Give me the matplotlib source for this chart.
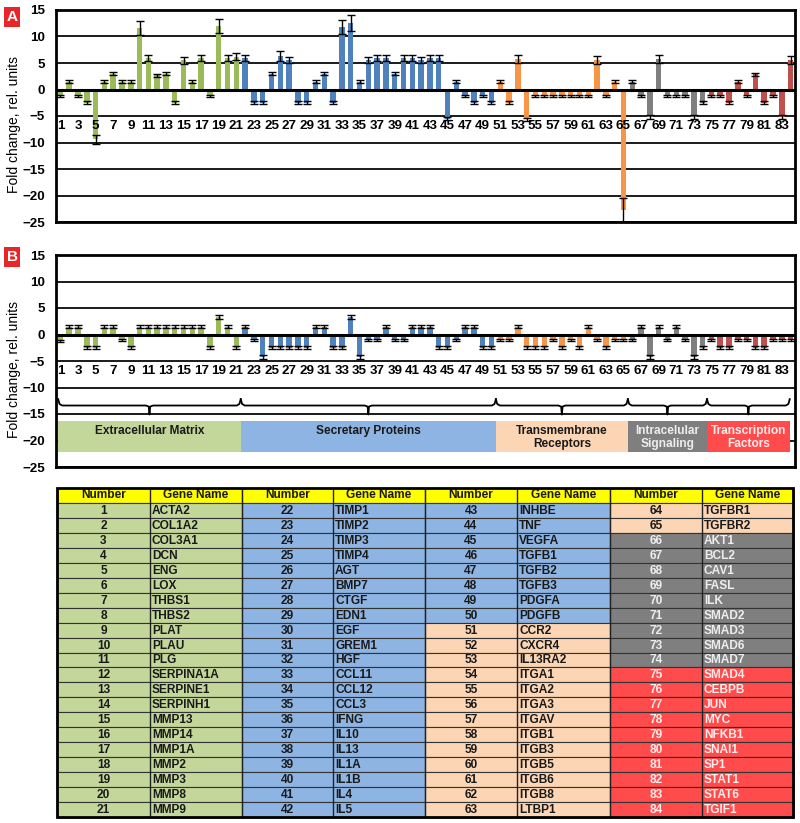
import matplotlib
matplotlib.use('Agg')
import matplotlib.pyplot as plt
from matplotlib.patches import Rectangle

plt.rcParams['font.family'] = ['Liberation Sans', 'DejaVu Sans']

# данные
numbers = list(range(1, 85))
genes = ['ACTA2', 'COL1A2', 'COL3A1', 'DCN', 'ENG', 'LOX', 'THBS1', 'THBS2', 'PLAT', 'PLAU',
         'PLG', 'SERPINA1A', 'SERPINE1', 'SERPINH1', 'MMP13', 'MMP14', 'MMP1A', 'MMP2', 'MMP3', 'MMP8',
         'MMP9', 'TIMP1', 'TIMP2', 'TIMP3', 'TIMP4', 'AGT', 'BMP7', 'CTGF', 'EDN1', 'EGF',
         'GREM1', 'HGF', 'CCL11', 'CCL12', 'CCL3', 'IFNG', 'IL10', 'IL13', 'IL1A', 'IL1B',
         'IL4', 'IL5', 'INHBE', 'TNF', 'VEGFA', 'TGFB1', 'TGFB2', 'TGFB3', 'PDGFA', 'PDGFB',
         'CCR2', 'CXCR4', 'IL13RA2', 'ITGA1', 'ITGA2', 'ITGA3', 'ITGAV', 'ITGB1', 'ITGB3', 'ITGB5',
         'ITGB6', 'ITGB8', 'LTBP1', 'TGFBR1', 'TGFBR2', 'AKT1', 'BCL2', 'CAV1', 'FASL', 'ILK',
         'SMAD2', 'SMAD3', 'SMAD6', 'SMAD7', 'SMAD4', 'CEBPB', 'JUN', 'MYC', 'NFKB1', 'SNAI1',
         'SP1', 'STAT1', 'STAT6', 'TGIF1']
groups = ['Extracellular Matrix', 'Secretary Proteins', 'Transmembrane\nReceptors',
          'Intracelular\nSignaling', 'Transcription\nFactors']
group_last = [21, 50, 65, 74, 84]

fold_a = [-1.2, 1.5, -1.2, -2.5, -9.4, 1.5, 3.0, 1.5, 1.5, 11.6,
          6.0, 2.7, 3.0, -2.5, 5.5, 1.5, 6.0, -1.2, 12.0, 6.0,
          6.2, 6.0, -2.5, -2.5, 3.0, 6.3, 5.6, -2.5, -2.5, 1.5,
          3.0, -2.5, 11.8, 12.6, 1.5, 5.6, 6.0, 6.0, 3.0, 6.0,
          6.0, 5.6, 6.0, 6.0, -5.5, 1.5, -1.2, -2.5, -1.2, -2.5,
          1.5, -2.5, 5.8, -5.6, -1.2, -1.2, -1.2, -1.2, -1.2, -1.2,
          -1.2, 5.6, -1.2, 1.5, -22.8, 1.5, -1.2, -5.2, 5.8, -1.2,
          -1.2, -1.2, -5.2, -2.5, -1.2, -1.2, -2.5, 1.5, -1.2, 2.9,
          -2.5, -1.2, -5.2, 5.6]
err_a = [0.2, 0.2, 0.2, 0.3, 0.8, 0.2, 0.35, 0.2, 0.2, 1.3,
         0.6, 0.3, 0.3, 0.3, 0.7, 0.2, 0.6, 0.2, 1.3, 0.6,
         0.7, 0.6, 0.3, 0.3, 0.3, 0.9, 0.6, 0.3, 0.3, 0.2,
         0.3, 0.3, 1.3, 1.5, 0.2, 0.6, 0.6, 0.6, 0.3, 0.6,
         0.6, 0.6, 0.6, 0.6, 0.3, 0.2, 0.2, 0.3, 0.2, 0.3,
         0.2, 0.3, 0.8, 0.3, 0.2, 0.2, 0.2, 0.2, 0.2, 0.2,
         0.2, 0.8, 0.2, 0.2, 2.4, 0.2, 0.2, 0.3, 0.8, 0.2,
         0.2, 0.2, 0.3, 0.3, 0.2, 0.2, 0.3, 0.2, 0.2, 0.3,
         0.3, 0.2, 0.3, 0.7]

fold_b = [-1.2, 1.5, 1.5, -2.5, -2.5, 1.5, 1.5, -1.0, -2.5, 1.5,
          1.5, 1.5, 1.5, 1.5, 1.5, 1.5, 1.5, -2.5, 3.3, 1.5,
          -2.5, 1.5, -1.0, -4.3, -2.5, -2.5, -2.5, -2.5, -2.5, 1.5,
          1.5, -2.5, -2.5, 3.3, -4.3, -1.0, -1.0, 1.5, -1.0, -1.0,
          1.5, 1.5, 1.5, -2.5, -2.5, -1.0, 1.5, 1.5, -2.5, -2.5,
          -1.0, -1.0, 1.5, -2.5, -2.5, -2.5, -1.0, -2.5, -1.0, -2.5,
          1.5, -1.0, -2.5, -1.0, -1.0, -1.0, 1.5, -4.3, 1.5, -1.0,
          1.5, -1.0, -4.3, -2.5, -1.0, -2.5, -2.5, -1.0, -1.0, -2.5,
          -2.5, -1.0, -1.0, -1.0]
err_b = [0.2, 0.2, 0.2, 0.25, 0.25, 0.2, 0.2, 0.15, 0.25, 0.2,
         0.2, 0.2, 0.2, 0.2, 0.2, 0.2, 0.2, 0.25, 0.4, 0.2,
         0.25, 0.2, 0.15, 0.4, 0.25, 0.25, 0.25, 0.25, 0.25, 0.2,
         0.2, 0.25, 0.25, 0.4, 0.4, 0.15, 0.15, 0.2, 0.15, 0.15,
         0.2, 0.2, 0.2, 0.25, 0.25, 0.15, 0.2, 0.2, 0.25, 0.25,
         0.15, 0.15, 0.2, 0.25, 0.25, 0.25, 0.15, 0.25, 0.15, 0.25,
         0.2, 0.15, 0.25, 0.15, 0.15, 0.15, 0.2, 0.4, 0.2, 0.15,
         0.2, 0.15, 0.4, 0.25, 0.15, 0.25, 0.25, 0.15, 0.15, 0.25,
         0.25, 0.15, 0.15, 0.15]

# цвета
bar_colors = ['#9BBB59', '#4F81BD', '#F79646', '#7F7F7F', '#C0504D']
light_colors = ['#C4D79B', '#8DB4E2', '#FCD5B4', '#7F7F7F', '#FF4B4B']
text_colors = ['#1a1a1a', '#1a1a1a', '#1a1a1a', '#EDEDED', '#FFEDED']


def group_of(n):
    for i, last in enumerate(group_last):
        if n <= last:
            return i


W, H = 800, 823
fig = plt.figure(figsize=(W / 100, H / 100), dpi=100)


def px_axes(x0, y0, x1, y1):
    return fig.add_axes([x0 / W, 1 - y1 / H, (x1 - x0) / W, (y1 - y0) / H])


def fold_panel(ax, vals, errs, letter, y_letter):
    cols = [bar_colors[group_of(n)] for n in numbers]
    ax.set_xlim(0.5, 84.5)
    ax.set_ylim(-25, 15)
    for y in range(-25, 16, 5):
        ax.axhline(y, color='#1a1a1a', lw=1.4, zorder=1)
    ax.bar(numbers, vals, width=0.62, color=cols, zorder=2, yerr=errs, capsize=2.8,
           error_kw=dict(elinewidth=1, capthick=1, ecolor='black', zorder=4))
    ax.axhline(0, color='black', lw=2.2, zorder=3)
    for n in numbers[::2]:
        ax.text(n, -6.9, str(n), ha='center', va='center', fontsize=9.6,
                fontweight='bold', zorder=5)
    ax.set_xticks([])
    ax.set_yticks(range(-25, 16, 5))
    ax.tick_params(axis='y', length=0, labelsize=9.6, pad=8)
    for lab in ax.get_yticklabels():
        lab.set_fontweight('bold')
    for s in ax.spines.values():
        s.set_linewidth(2)
    ax.set_ylabel('Fold change, rel. units', fontsize=10)
    ax.yaxis.set_label_coords(-0.047, 0.46)
    fig.text(12 / W, 1 - y_letter / H, letter, color='white', fontsize=11,
             fontweight='bold', ha='center', va='center',
             bbox=dict(boxstyle='square,pad=0.18', fc='#E8262A', ec='none'))


ax_a = px_axes(56, 10, 795, 222)
fold_panel(ax_a, fold_a, err_a, 'A', 17)

ax_b = px_axes(56, 255, 795, 467)
fold_panel(ax_b, fold_b, err_b, 'B', 257)

# скобки и полосы с группами
starts = [0.75] + [g + 0.5 for g in group_last[:-1]]
ends = [g + 0.5 for g in group_last[:-1]] + [83.9]
for i, name in enumerate(groups):
    x0, x1 = starts[i], ends[i]
    xc = (x0 + x1) / 2
    bx = [x0, x0 + 0.15, x0 + 0.45, xc - 0.4, xc - 0.08, xc, xc + 0.08, xc + 0.4,
          x1 - 0.45, x1 - 0.15, x1]
    by = [-12.2, -13.1, -13.4, -13.4, -13.6, -15.1, -13.6, -13.4, -13.4, -13.1, -12.2]
    ax_b.plot(bx, by, color='black', lw=1.3, zorder=5)
    ax_b.add_patch(Rectangle((x0, -22.2), x1 - x0, 5.8, fc=light_colors[i], ec='none', zorder=5))
    ty = -18.3 if '\n' not in name else -19.4
    ax_b.text(xc, ty, name, ha='center', va='center', fontsize=8.6, fontweight='bold',
              color=text_colors[i], zorder=6, linespacing=1.15)

# таблица
ax_t = px_axes(50, 480, 800, 823)
ax_t.set_xlim(50, 800)
ax_t.set_ylim(823, 480)
ax_t.axis('off')
col_x = [57, 150, 242, 333, 425, 517, 610, 702, 793]
top, row_h = 488, (817 - 488) / 22

ax_t.add_patch(Rectangle((col_x[0] + 2, top + 2), col_x[-1] - col_x[0], 22 * row_h,
                         fc='#9a9a9a', ec='none', zorder=0))
for c in range(4):
    xa, xb, xe = col_x[2 * c], col_x[2 * c + 1], col_x[2 * c + 2]
    ax_t.add_patch(Rectangle((xa, top), xe - xa, row_h, fc='#FFFF00', ec='#333333', lw=0.8, zorder=1))
    ax_t.text((xa + xb) / 2, top + row_h / 2, 'Number', ha='center', va='center',
              fontsize=8.6, fontweight='bold', color='#1a1a1a', zorder=3)
    ax_t.text((xb + xe) / 2, top + row_h / 2, 'Gene Name', ha='center', va='center',
              fontsize=8.6, fontweight='bold', color='#1a1a1a', zorder=3)
    for r in range(21):
        n = c * 21 + r + 1
        g = group_of(n)
        y = top + (r + 1) * row_h
        ax_t.add_patch(Rectangle((xa, y), xe - xa, row_h, fc=light_colors[g],
                                 ec='#333333', lw=0.8, zorder=1))
        ax_t.text((xa + xb) / 2, y + row_h / 2 + 0.5, str(n), ha='center', va='center',
                  fontsize=8.6, fontweight='bold', color=text_colors[g], zorder=3)
        ax_t.text(xb + 2, y + row_h / 2 + 0.5, genes[n - 1], ha='left', va='center',
                  fontsize=8.6, fontweight='bold', color=text_colors[g], zorder=3)
for x in col_x:
    ax_t.plot([x, x], [top, top + 22 * row_h], color='#222222', lw=1, zorder=2)
ax_t.add_patch(Rectangle((col_x[0], top), col_x[-1] - col_x[0], 22 * row_h,
                         fc='none', ec='black', lw=2, zorder=4))

fig.savefig('out.png', dpi=100)
